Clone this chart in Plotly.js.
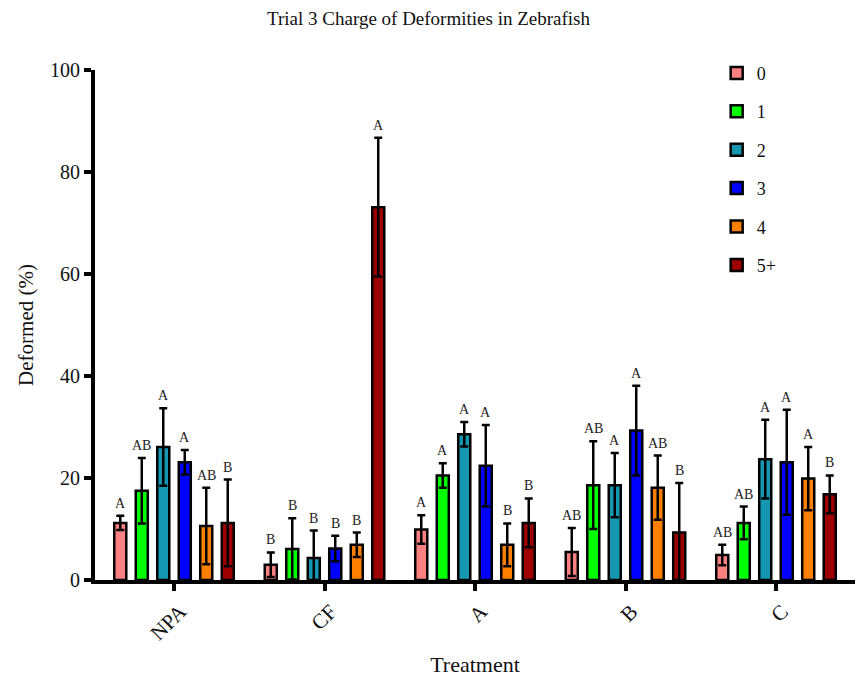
<!DOCTYPE html>
<html>
<head>
<meta charset="utf-8">
<script src="https://cdn.plot.ly/plotly-3.0.1.min.js"></script>
<style>
  html, body { margin: 0; padding: 0; background: #fff; }
  #chart { width: 857px; height: 677px; }
</style>
</head>
<body>
<div id="chart"></div>
<script>
// Treatments along the x axis
const categories = ['NPA', 'CF', 'A', 'B', 'C'];

// Charge classes (one bar series each)
const seriesNames = ['0', '1', '2', '3', '4', '5+'];

// Mean deformed (%) per charge class, by treatment
const charge0 = [11.2, 3.0, 9.9, 5.5, 4.9];
const charge1 = [17.5, 6.1, 20.5, 18.6, 11.2];
const charge2 = [26.1, 4.3, 28.6, 18.6, 23.7];
const charge3 = [23.1, 6.2, 22.4, 29.3, 23.1];
const charge4 = [10.6, 6.9, 6.9, 18.1, 19.9];
const charge5 = [11.2, 73.1, 11.2, 9.3, 16.8];

// Error (±) per charge class, by treatment
const err0 = [1.4, 2.4, 2.8, 4.7, 2.0];
const err1 = [6.4, 6.0, 2.4, 8.6, 3.2];
const err2 = [7.6, 5.4, 2.4, 6.3, 7.7];
const err3 = [2.4, 2.5, 8.0, 8.8, 10.3];
const err4 = [7.5, 2.4, 4.2, 6.3, 6.2];
const err5 = [8.5, 13.6, 4.8, 9.7, 3.7];

// Significance letters per charge class, by treatment
const letters0 = ['A', 'B', 'A', 'AB', 'AB'];
const letters1 = ['AB', 'B', 'A', 'AB', 'AB'];
const letters2 = ['A', 'B', 'A', 'A', 'A'];
const letters3 = ['A', 'B', 'A', 'A', 'A'];
const letters4 = ['AB', 'B', 'B', 'AB', 'A'];
const letters5 = ['B', 'A', 'B', 'B', 'B'];

const values = [charge0, charge1, charge2, charge3, charge4, charge5];
const errors = [err0, err1, err2, err3, err4, err5];
const letters = [letters0, letters1, letters2, letters3, letters4, letters5];
const colors = ['#FF8080', '#00FF00', '#1597B2', '#0000FF', '#FF8000', '#9E0000'];

const FONT = 'Liberation Serif, serif';

const W = 857, H = 677;
const margin = { l: 95, r: 2, t: 70, b: 97 };
const xRange = [-0.525, categories.length - 1 + 0.525];
const bargap = 0.143;

const traces = seriesNames.map((name, i) => ({
  type: 'bar',
  name: name,
  legendgroup: name,
  x: categories,
  y: values[i],
  marker: { color: colors[i], line: { color: '#000', width: 2.5 } },
  error_y: { type: 'data', array: errors[i], visible: true, color: '#000', thickness: 2.5, width: 4 },
  hoverinfo: 'x+y'
}));

// Letters sit just above each bar's upper error cap, shifted to the bar's slot in its group
const plotW = W - margin.l - margin.r;
const catPx = plotW / (xRange[1] - xRange[0]);
const slotPx = (1 - bargap) * catPx / seriesNames.length;
const annotations = [];
seriesNames.forEach((name, i) => {
  categories.forEach((cat, j) => {
    annotations.push({
      x: cat, y: values[i][j] + errors[i][j],
      xref: 'x', yref: 'y',
      text: letters[i][j],
      showarrow: false,
      yanchor: 'bottom',
      yshift: 3,
      xshift: (i - (seriesNames.length - 1) / 2) * slotPx,
      font: { size: 14, color: '#222' }
    });
  });
});

const layout = {
  width: W, height: H,
  margin: margin,
  paper_bgcolor: '#fff',
  plot_bgcolor: '#fff',
  barmode: 'group',
  bargap: bargap,
  bargroupgap: 0.44,
  font: { family: FONT, color: '#111' },
  title: {
    text: 'Trial 3 Charge of Deformities in Zebrafish',
    font: { size: 19, color: '#111' },
    x: 0.5, xref: 'container', xanchor: 'center', y: 0.973, yanchor: 'middle'
  },
  xaxis: {
    type: 'category',
    range: xRange,
    showline: true, linecolor: '#000', linewidth: 4,
    ticks: 'outside', ticklen: 7, tickwidth: 4, tickcolor: '#000',
    tickangle: -45,
    ticklabelshift: 6,
    tickfont: { size: 21, color: '#111' },
    showgrid: false, zeroline: false,
    title: { text: 'Treatment', font: { size: 22, color: '#111' }, standoff: 16 }
  },
  yaxis: {
    range: [0, 100],
    tickvals: [0, 20, 40, 60, 80, 100],
    showline: true, linecolor: '#000', linewidth: 4,
    ticks: 'outside', ticklen: 7, tickwidth: 4, tickcolor: '#000',
    tickfont: { size: 20, color: '#111' },
    showgrid: false, zeroline: false,
    title: { text: 'Deformed (%)', font: { size: 21, color: '#111' }, standoff: 12 }
  },
  showlegend: true,
  legend: {
    x: 0.818, y: 1.03, xanchor: 'left', yanchor: 'top',
    traceorder: 'grouped',
    tracegroupgap: 12,
    bgcolor: 'rgba(0,0,0,0)',
    font: { size: 18, color: '#111' }
  },
  annotations: annotations
};

Plotly.newPlot('chart', traces, layout, { displayModeBar: false, staticPlot: true });
</script>
</body>
</html>
